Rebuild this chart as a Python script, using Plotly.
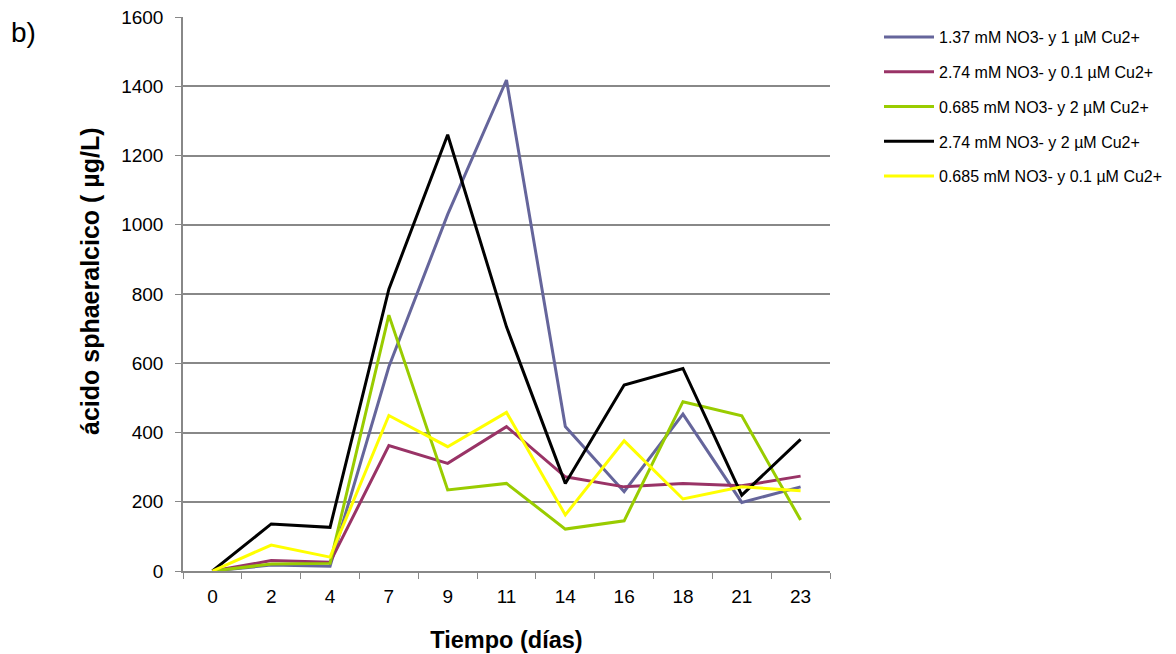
import plotly.graph_objects as go

days = ["0", "2", "4", "7", "9", "11", "14", "16", "18", "21", "23"]

names = [
    "1.37 mM NO3- y 1 µM Cu2+",
    "2.74 mM NO3- y 0.1 µM Cu2+",
    "0.685 mM NO3- y 2 µM Cu2+",
    "2.74 mM NO3- y 2 µM Cu2+",
    "0.685 mM NO3- y 0.1 µM Cu2+",
]

s1 = [0, 17, 14, 590, 1030, 1418, 417, 229, 453, 198, 243]
s2 = [0, 30, 25, 362, 311, 417, 272, 243, 253, 246, 274]
s3 = [0, 20, 22, 739, 234, 253, 121, 145, 489, 448, 147]
s4 = [0, 136, 126, 814, 1260, 705, 253, 537, 585, 219, 380]
s5 = [0, 75, 40, 449, 359, 458, 162, 376, 208, 243, 232]

series = [s1, s2, s3, s4, s5]
colors = ["#65659B", "#993366", "#99CC00", "#000000", "#FFFF00"]

fig = go.Figure()
for i, (n, s, c) in enumerate(zip(names, series, colors)):
    fig.add_trace(go.Scatter(
        x=days, y=s, name=n, mode="lines",
        line=dict(color=c, width=3),
        legendgroup=f"g{i}",
    ))

font = "Liberation Sans, Arial, sans-serif"
L, R, T, B = 183, 346, 17, 83
PW, PH = 1176 - L - R, 654 - T - B

fig.update_layout(
    width=1176, height=654,
    margin=dict(l=L, r=R, t=T, b=B, autoexpand=False),
    paper_bgcolor="white", plot_bgcolor="white",
    font=dict(family=font, color="black"),
    showlegend=True,
    legend=dict(
        x=(879 - L) / PW, y=1 - (20 - T) / PH, xanchor="left", yanchor="top",
        font=dict(size=16, family=font),
        tracegroupgap=11,
        itemwidth=50,
        bgcolor="rgba(0,0,0,0)",
    ),
    xaxis=dict(
        type="category", range=[-0.5, 10.5],
        showline=True, linecolor="#888888", linewidth=1.5,
        ticks="outside", tickson="boundaries", ticklen=6, tickcolor="#888888",
        ticklabelstandoff=7,
        tickfont=dict(size=19), showgrid=False,
        title=dict(text="<b>Tiempo (días)</b>", font=dict(size=23.5), standoff=26),
    ),
    yaxis=dict(
        range=[0, 1600], dtick=200,
        showline=True, linecolor="#888888", linewidth=1.5,
        ticks="outside", ticklen=6, tickcolor="#888888",
        ticklabelstandoff=8,
        showgrid=True, gridcolor="#888888", gridwidth=1.5,
        tickfont=dict(size=19),
        zeroline=False,
    ),
    annotations=[
        dict(
            text="b)", x=(9 - L) / PW, y=1 - (33 - T) / PH,
            xref="paper", yref="paper", showarrow=False,
            xanchor="left", yanchor="middle",
            font=dict(size=28),
        ),
        dict(
            text="<b>ácido sphaeralcico ( µg/L)</b>", textangle=-90,
            x=(90 - L) / PW, y=1 - (281 - T) / PH,
            xref="paper", yref="paper", showarrow=False,
            xanchor="center", yanchor="middle",
            font=dict(size=25),
        ),
    ],
)

fig.write_html("out.html")
